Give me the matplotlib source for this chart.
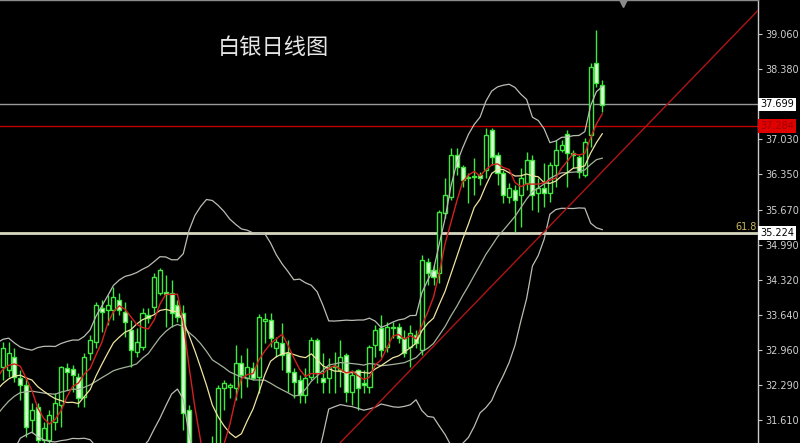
import numpy as np
import pandas as pd
import matplotlib
matplotlib.use("Agg")
import matplotlib.pyplot as plt

# ---------------- data ----------------
opens = [32.80, 32.63, 32.57, 32.82, 32.42, 32.28, 31.61, 31.86, 31.22, 31.22,
         31.57, 31.90, 32.61, 32.59, 32.44, 32.05, 32.90, 33.11, 33.77, 33.73,
         33.73, 33.93, 33.69, 33.35, 32.92, 33.02, 33.63, 33.79, 34.06, 34.08,
         34.06, 33.83, 33.67, 31.80, 30.20, 30.13, 30.45, 30.20, 30.55, 32.23,
         32.24, 32.23, 32.71, 32.42, 32.61, 32.44, 33.52, 33.54, 33.00, 33.09,
         32.90, 32.53, 32.38, 32.09, 32.44, 33.15, 32.42, 32.42, 32.63, 32.57,
         32.86, 32.15, 32.57, 32.32, 32.24, 33.06, 33.38, 33.02, 33.38, 33.40,
         33.19, 33.02, 33.25, 32.96, 34.66, 34.50, 34.45, 35.60, 35.91, 36.72,
         36.49, 36.30, 36.32, 36.34, 36.43, 37.21, 36.72, 36.38, 35.91, 36.05,
         35.95, 36.18, 36.63, 35.99, 36.09, 35.99, 36.53, 36.82, 37.13, 36.76,
         36.69, 36.34, 37.11, 38.50, 38.08]
highs = [32.92, 33.11, 33.11, 33.00, 32.57, 32.42, 31.94, 31.94, 31.57, 31.80,
         32.13, 32.65, 32.71, 32.67, 32.51, 32.90, 33.25, 33.89, 33.93, 34.02,
         34.18, 34.06, 33.89, 33.54, 33.38, 33.77, 33.77, 34.45, 34.54, 34.41,
         34.31, 33.93, 33.83, 31.90, 30.60, 30.70, 30.80, 31.30, 32.28, 32.38,
         32.32, 33.06, 32.86, 33.00, 32.73, 33.65, 33.67, 33.67, 33.21, 33.48,
         33.15, 32.61, 32.48, 32.61, 33.21, 33.19, 32.90, 32.80, 32.92, 33.15,
         32.90, 32.57, 32.60, 32.57, 33.06, 33.44, 33.63, 33.50, 33.50, 33.48,
         33.35, 33.44, 33.35, 34.79, 34.74, 34.60, 35.66, 36.28, 36.86, 36.86,
         36.53, 36.38, 36.67, 36.40, 37.245, 37.245, 36.78, 36.43, 36.18, 36.14,
         36.47, 36.78, 36.72, 36.28, 36.57, 36.59, 37.01, 37.01, 37.21, 36.82,
         36.72, 37.05, 38.50, 39.14, 38.17]
lows = [32.53, 32.38, 32.44, 32.34, 31.99, 31.28, 31.36, 30.99, 31.06, 31.06,
        31.41, 31.47, 32.19, 32.15, 31.86, 31.86, 32.77, 33.00, 33.31, 33.44,
        33.54, 33.63, 33.21, 32.63, 32.82, 32.96, 33.48, 33.67, 34.02, 33.40,
        33.40, 33.50, 31.41, 29.90, 29.80, 29.95, 30.00, 30.05, 30.40, 31.80,
        32.03, 31.99, 32.03, 32.24, 32.38, 32.13, 33.09, 33.02, 32.82, 32.57,
        32.15, 32.03, 31.94, 31.94, 32.38, 32.32, 32.13, 32.13, 32.13, 32.24,
        31.96, 31.90, 31.80, 32.13, 32.13, 32.82, 32.82, 32.92, 33.19, 33.09,
        32.82, 32.63, 33.00, 32.86, 34.21, 34.21, 34.25, 35.51, 35.86, 36.34,
        36.11, 35.80, 35.95, 36.14, 36.28, 36.53, 36.14, 35.80, 35.80, 35.24,
        35.33, 36.05, 35.66, 35.62, 35.72, 35.82, 36.11, 36.78, 36.11, 36.47,
        36.28, 36.30, 36.88, 38.04, 37.55]
closes = [32.61, 33.00, 32.90, 32.44, 32.28, 31.47, 31.80, 31.22, 31.45, 31.70,
          31.94, 32.63, 32.53, 32.48, 32.03, 32.82, 33.15, 33.83, 33.69, 33.83,
          33.98, 33.73, 33.50, 32.96, 33.11, 33.67, 33.58, 34.37, 34.50, 34.04,
          33.67, 33.60, 31.74, 30.13, 30.13, 30.40, 30.20, 30.55, 32.23, 32.32,
          32.28, 32.71, 32.48, 32.63, 32.42, 33.60, 33.56, 33.19, 33.11, 32.86,
          32.53, 32.34, 32.09, 32.42, 33.15, 32.51, 32.34, 32.63, 32.65, 32.82,
          32.15, 32.48, 32.23, 32.28, 33.02, 33.35, 32.96, 33.40, 33.40, 33.19,
          32.90, 33.29, 33.09, 34.70, 34.45, 34.37, 35.62, 35.95, 36.72, 36.49,
          36.24, 36.28, 36.30, 36.28, 37.11, 36.69, 36.38, 35.95, 36.09, 35.86,
          36.28, 36.63, 35.95, 36.09, 35.99, 36.53, 36.82, 36.92, 36.76, 36.72,
          36.40, 36.97, 38.42, 38.11, 37.69]
# closes of the bars just left of the visible window (estimated), used for the averages
pre_closes = [30.2, 30.4, 30.5, 30.9, 31.2, 31.5, 31.6, 31.8, 32.0, 32.1,
              31.8, 32.0, 31.9, 32.1, 32.0, 32.2, 32.5, 32.3, 32.5]

y_ticks = [39.060, 38.380, 37.030, 36.350, 35.670, 34.990, 34.320, 33.640,
           32.960, 32.290, 31.610]
price_now = 37.699
red_level = 37.284
fib_level = 35.224
fib_label = "61.8"
trend_x = [58.9, 130.8]
trend_y = [31.16, 39.52]
title = "白银日线图"

# ---------------- figure ----------------
W, H = 800, 443
fig = plt.figure(figsize=(W / 100, H / 100), dpi=100, facecolor="black")
ax = fig.add_axes([0, 0, 758 / W, 1])
ax.set_facecolor("black")

n = len(closes)
idx = np.arange(n)
o = np.array(opens); h = np.array(highs); l = np.array(lows); c = np.array(closes)

green = "#3ee83e"
up = c >= o
# wicks
ax.vlines(idx, l, h, color=green, linewidth=1.0, zorder=2)
# bodies
bottoms = np.minimum(o, c)
heights = np.maximum(np.abs(c - o), 0.025)
ax.bar(idx[up], heights[up], bottom=bottoms[up], width=0.7,
       color="black", edgecolor=green, linewidth=1.0, zorder=3)
ax.bar(idx[~up], heights[~up], bottom=bottoms[~up], width=0.7,
       color="#e0ffd8", edgecolor=green, linewidth=1.0, zorder=3)

# indicators
allc = pd.Series(pre_closes + closes)
k = len(pre_closes)
ma5 = allc.rolling(5).mean().values[k:]
ma10 = allc.rolling(10).mean().values[k:]
ma20 = allc.rolling(20).mean().values[k:]
sd20 = allc.rolling(20).std(ddof=0).values[k:]
ax.plot(idx, ma20 + 2 * sd20, color="#b9beb4", lw=0.9, zorder=4)
ax.plot(idx, ma20 - 2 * sd20, color="#b9beb4", lw=0.9, zorder=4)
ax.plot(idx, ma20, color="#a3b39a", lw=0.9, zorder=4)
ax.plot(idx, ma10, color="#efe4a0", lw=0.9, zorder=5)
ax.plot(idx, ma5, color="#d42020", lw=1.0, zorder=6)

# levels
ax.axhline(price_now, color="#9a9a9a", lw=1.0, zorder=1)
ax.axhline(red_level, color="#c00000", lw=1.0, zorder=1)
ax.axhline(fib_level, color="#d8d8c0", lw=2.0, zorder=1)
ax.plot(trend_x, trend_y, color="#b01414", lw=1.0, zorder=6)

# axes limits (pixel mapping)
ax.set_xlim((0 + 3) / 5.82, (758 + 3) / 5.82)
ax.set_ylim(31.164, 39.716)

for s in ["left", "bottom"]:
    ax.spines[s].set_visible(False)
ax.spines["right"].set_color("#c8c8c8")
ax.spines["right"].set_linewidth(1.0)
ax.spines["top"].set_color("#8a8a8a")
ax.spines["top"].set_linewidth(1.0)
ax.set_xticks([])
ax.yaxis.tick_right()
ax.set_yticks(y_ticks)
ax.set_yticklabels([f"{v:.3f}" for v in y_ticks])
ax.tick_params(axis="y", direction="out", length=3, width=0.8, color="#c8c8c8",
               labelcolor="#d0d0d0", labelsize=7, pad=2)

ytr = ax.get_yaxis_transform()
ax.text(1.003, price_now, f"{price_now:.3f}", transform=ytr, ha="left", va="center",
        fontsize=7, color="black", clip_on=False,
        bbox=dict(boxstyle="square,pad=0.2", fc="white", ec="none"))
ax.text(1.003, red_level, f"{red_level:.3f}", transform=ytr, ha="left", va="center",
        fontsize=7, color="#a00000", clip_on=False,
        bbox=dict(boxstyle="square,pad=0.2", fc="#e00000", ec="none"))
ax.text(1.003, fib_level, f"{fib_level:.3f}", transform=ytr, ha="left", va="center",
        fontsize=7, color="black", clip_on=False,
        bbox=dict(boxstyle="square,pad=0.2", fc="white", ec="none"))
ax.text(0.998, fib_level + 0.02, fib_label, transform=ytr, ha="right", va="bottom",
        fontsize=7, color="#cdb85a")

# shift marker
ax.plot([623 / 758], [1 - 3 / 443], marker="v", markersize=6, color="#8a8a8a",
        transform=ax.transAxes, clip_on=False, zorder=7)

# title
ax.text(218 / 758, 1 - 47 / 443, title, transform=ax.transAxes, ha="left", va="center",
        fontsize=16, color="#e6e6e6", family=["Noto Sans CJK SC", "DejaVu Sans"],
        fontweight="light")

fig.savefig("out.png", dpi=100, facecolor="black")
